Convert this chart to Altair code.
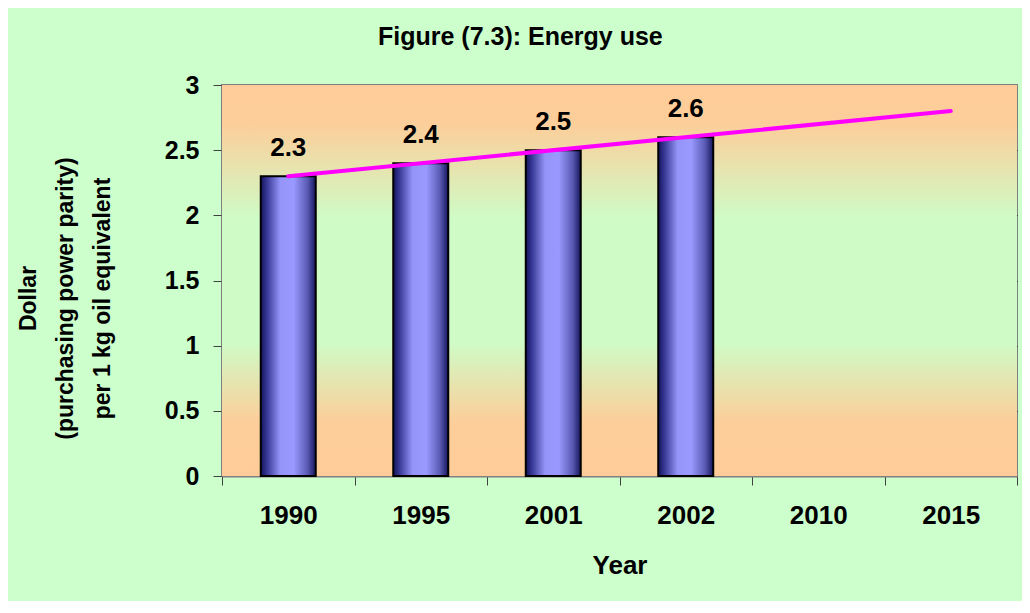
import altair as alt
import pandas as pd

# ---- data ----
years = ["1990", "1995", "2001", "2002", "2010", "2015"]
energy_use = [2.3, 2.4, 2.5, 2.6, None, None]
trend_years = ["1990", "2015"]
trend_values = [2.3, 2.8]
y_ticks = [0, 0.5, 1, 1.5, 2, 2.5, 3]

bars_df = pd.DataFrame({"Year": years, "Value": energy_use}).dropna()
trend_df = pd.DataFrame({"Year": trend_years, "Value": trend_values})
bg_df = pd.DataFrame({"bg": [1]})

FONT = "Liberation Sans"

x_enc = alt.X(
    "Year:N",
    sort=years,
    scale=alt.Scale(domain=years, paddingInner=0, paddingOuter=0),
    axis=alt.Axis(
        title="Year",
        labelAngle=0,
        labelFontSize=26,
        labelFontWeight="bold",
        labelFont=FONT,
        labelColor="black",
        labelPadding=17,
        titleFontSize=26,
        titleFontWeight="bold",
        titleFont=FONT,
        titleColor="black",
        titlePadding=24,
        tickBand="extent",
        tickSize=9,
        tickColor="#404040",
        tickWidth=1,
        domainColor="#808080",
        domainWidth=2,
        grid=False,
    ),
)

y_enc = alt.Y(
    "Value:Q",
    scale=alt.Scale(domain=[0, 3], nice=False, zero=True),
    axis=alt.Axis(
        values=y_ticks,
        format="~g",
        title=["Dollar", "(purchasing power parity)", "per 1 kg oil equivalent"],
        titleFontSize=23,
        titleFontWeight="bold",
        titleFont=FONT,
        titleColor="black",
        titleLineHeight=37,
        titlePadding=50,
        titleY=213,
        labelFontSize=25,
        labelFontWeight="bold",
        labelFont=FONT,
        labelColor="black",
        labelPadding=14,
        tickSize=9,
        tickColor="#404040",
        tickWidth=1,
        domainColor="#808080",
        domainWidth=2,
        grid=True,
        gridColor={
            "condition": {"test": "datum.value == 3 || datum.value == 0", "value": "#808080"},
            "value": "black",
        },
        gridWidth=1,
    ),
)

bar_fill = alt.Gradient(
    gradient="linear",
    x1=0, x2=1, y1=0, y2=0,
    stops=[
        alt.GradientStop(offset=0.0, color="#14145e"),
        alt.GradientStop(offset=0.12, color="#3a3a98"),
        alt.GradientStop(offset=0.35, color="#9494f8"),
        alt.GradientStop(offset=0.6, color="#9999ff"),
        alt.GradientStop(offset=0.85, color="#5a5ab4"),
        alt.GradientStop(offset=1.0, color="#16165e"),
    ],
)

bg_fill = alt.Gradient(
    gradient="linear",
    x1=0, x2=0, y1=0, y2=1,
    stops=[
        alt.GradientStop(offset=0.0, color="#FFCC99"),
        alt.GradientStop(offset=0.1, color="#FCCE9A"),
        alt.GradientStop(offset=0.34, color="#CFFBC6"),
        alt.GradientStop(offset=0.66, color="#CFFBC6"),
        alt.GradientStop(offset=0.86, color="#FCCE9A"),
        alt.GradientStop(offset=1.0, color="#FFCC99"),
    ],
)

background = alt.Chart(bg_df).mark_rect(fill=bg_fill, strokeWidth=0).encode(
    x=alt.value(0), x2=alt.value("width"), y=alt.value(0), y2=alt.value("height")
)

bars = alt.Chart(bars_df).mark_bar(
    fill=bar_fill, stroke="black", strokeWidth=2, width=alt.RelativeBandSize(0.415)
).encode(x=x_enc, y=y_enc)

labels = alt.Chart(bars_df).mark_text(
    fontSize=26, fontWeight="bold", font=FONT, color="black",
    baseline="alphabetic", dy=-20
).encode(x=x_enc, y=y_enc, text=alt.Text("Value:Q", format=".1f"))

trend = alt.Chart(trend_df).mark_line(
    color="#FF00FF", strokeWidth=4, strokeCap="round"
).encode(x=x_enc, y=y_enc)

chart = (
    alt.layer(background, bars, trend, labels)
    .properties(
        width=795,
        height=391,
        autosize=alt.AutoSizeParams(type="none"),
        padding={"left": 214, "top": 77, "right": 5, "bottom": 125},
        background="#CCFFCC",
        title=alt.TitleParams(
            "Figure (7.3): Energy use",
            fontSize=25,
            fontWeight="bold",
            font=FONT,
            color="black",
            anchor="middle",
            frame="bounds",
            offset=23,
            dx=3,
        ),
    )
    .configure_view(stroke="#808080", strokeWidth=2)
)

chart.save("out.html", embed_options={"renderer": "svg", "actions": False})
